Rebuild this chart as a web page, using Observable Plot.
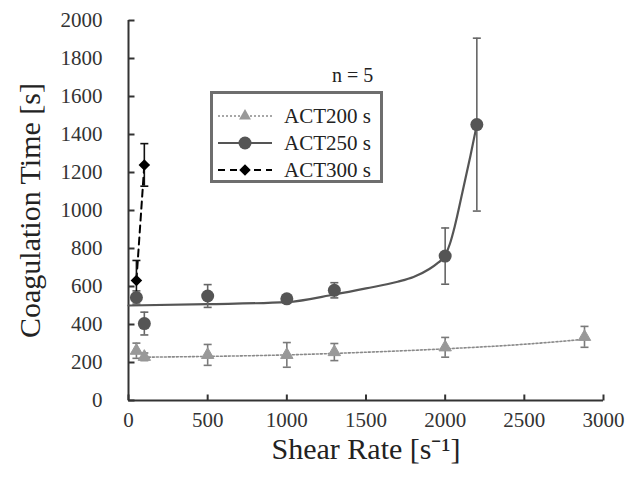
<!DOCTYPE html>
<html><head><meta charset="utf-8">
<script src="https://cdn.jsdelivr.net/npm/d3@7"></script>
<script src="https://cdn.jsdelivr.net/npm/@observablehq/plot@0.6"></script>
<style>
body{margin:0;background:#fff;}
#wrap{position:relative;width:643px;height:481px;overflow:hidden;font-family:"Liberation Serif","Times New Roman",serif;}
#legend{position:absolute;left:210px;top:91px;width:167px;height:86px;border:3px solid #6e6e6e;background:#fff;}
.row{position:absolute;left:0;height:26px;display:flex;align-items:center;font-size:21px;color:#222;}
.row svg{margin-left:5px;margin-right:12px;}
#nlabel{position:absolute;left:332px;top:64px;font-size:20px;color:#222;}
</style>
</head><body><div id="wrap"></div>
<script>
// ---- data ----
const shear200 = [50, 100, 500, 1000, 1300, 2000, 2880];
const act200   = [262, 230, 240, 240, 255, 280, 335];
const err200   = [40, 20, 55, 65, 45, 52, 55];

const shear250 = [50, 100, 500, 1000, 1300, 2000, 2200];
const act250   = [542, 405, 550, 535, 580, 760, 1452];
const err250   = [35, 60, 60, 20, 40, 148, 455];

const shear300 = [50, 100];
const act300   = [632, 1240];
const err300   = [105, 112];

// trend curves
const fit200X = [100, 500, 1000, 1500, 2000, 2500, 2880];
const fit200Y = [228, 232, 240, 254, 272, 296, 322];
const fit250X = [0, 500, 1000, 1300, 1500, 1700, 1800, 1900, 1950, 2000, 2030, 2060, 2110, 2160, 2200];
const fit250Y = [500, 507, 518, 558, 590, 625, 650, 692, 722, 763, 825, 915, 1100, 1290, 1452];

const xTicks = [0, 500, 1000, 1500, 2000, 2500, 3000];
const yTicks = [0, 200, 400, 600, 800, 1000, 1200, 1400, 1600, 1800, 2000];

const seriesNames = ["ACT200 s", "ACT250 s", "ACT300 s"];
const xTitle = "Shear Rate [s\u207B\u00B9]";
const yTitle = "Coagulation Time [s]";
const nText = "n = 5";

// ---- tables ----
const pts = (xs, ys, es) => xs.map((x, i) => ({x, y: ys[i], lo: ys[i] - es[i], hi: ys[i] + es[i]}));
const d200 = pts(shear200, act200, err200);
const d250 = pts(shear250, act250, err250);
const d300 = pts(shear300, act300, err300);
const f200 = fit200X.map((x, i) => ({x, y: fit200Y[i]}));
const f250 = fit250X.map((x, i) => ({x, y: fit250Y[i]}));

const hline = {draw(ctx, size) { const r = Math.sqrt(size / Math.PI); ctx.moveTo(-r, 0); ctx.lineTo(r, 0); }};
const vline = {draw(ctx, size) { const r = Math.sqrt(size / Math.PI); ctx.moveTo(0, -r); ctx.lineTo(0, r); }};

function errMarks(data, color, w) {
  return [
    Plot.ruleX(data, {x: "x", y1: "lo", y2: "hi", stroke: color, strokeWidth: w}),
    Plot.dot(data, {x: "x", y: "lo", symbol: hline, r: 4, stroke: color, strokeWidth: w, fill: "none"}),
    Plot.dot(data, {x: "x", y: "hi", symbol: hline, r: 4, stroke: color, strokeWidth: w, fill: "none"})
  ];
}

const serif = "Liberation Serif";
const axisColor = "#333";
const chart = Plot.plot({
  width: 643, height: 481,
  marginLeft: 128, marginRight: 40, marginTop: 20, marginBottom: 81,
  style: {fontFamily: serif, fontSize: "21px", color: "#333", background: "#fff", overflow: "visible"},
  x: {domain: [0, 3000], axis: null},
  y: {domain: [0, 2000], axis: null},
  marks: [
    // tick labels
    Plot.text(xTicks, {x: d => d, y: 0, text: d => String(d), dy: 12, lineAnchor: "top", textAnchor: "middle", fontSize: 21, fontFamily: serif, fill: "#333"}),
    Plot.text(yTicks, {x: 0, y: d => d, text: d => String(d), dx: -26, lineAnchor: "middle", textAnchor: "end", fontSize: 21, fontFamily: serif, fill: "#333"}),
    Plot.ruleX([0], {y1: 0, y2: 2000, stroke: axisColor, strokeWidth: 2}),
    Plot.ruleY([0], {x1: 0, x2: 3000, stroke: axisColor, strokeWidth: 2}),
    Plot.dot(xTicks, {x: d => d, y: 0, symbol: vline, r: 3, dy: -3, stroke: axisColor, strokeWidth: 2}),
    Plot.dot(yTicks, {x: 0, y: d => d, symbol: hline, r: 3, dx: 3, stroke: axisColor, strokeWidth: 2}),
    // trend lines
    Plot.line(f200, {x: "x", y: "y", stroke: "#8a8a8a", strokeWidth: 1.6, strokeDasharray: "2,2", curve: "monotone-x"}),
    Plot.line(f250, {x: "x", y: "y", stroke: "#555", strokeWidth: 2.2, curve: "monotone-x"}),
    Plot.line(d300, {x: "x", y: "y", stroke: "#000", strokeWidth: 2, strokeDasharray: "7,5"}),
    // error bars
    ...errMarks(d200, "#7a7a7a", 1.6),
    ...errMarks(d250, "#666", 1.6),
    ...errMarks(d300, "#111", 1.6),
    // points
    Plot.dot(d200, {x: "x", y: "y", symbol: "triangle", r: 4.6, fill: "#999", stroke: "#999", strokeWidth: 1}),
    Plot.dot(d250, {x: "x", y: "y", symbol: "circle", r: 6.5, fill: "#555"}),
    Plot.dot(d300, {x: "x", y: "y", symbol: "diamond2", r: 5.2, fill: "#000"}),
    // axis titles
    Plot.text([xTitle], {frameAnchor: "bottom", dy: 49, fontSize: 30, fontFamily: serif, fill: "#222", textAnchor: "middle", lineAnchor: "middle"}),
    Plot.text([yTitle], {frameAnchor: "left", dx: -98, rotate: -90, fontSize: 30, fontFamily: serif, fill: "#222", textAnchor: "middle", lineAnchor: "middle"})
  ]
});

const wrap = document.getElementById("wrap");
wrap.appendChild(chart);

// legend overlay
const legend = document.createElement("div");
legend.id = "legend";
const styles = [
  {stroke: "#8a8a8a", dash: "2,2", w: 1.6, sym: d3.symbolTriangle, size: 62, fill: "#999"},
  {stroke: "#555", dash: null, w: 2.2, sym: d3.symbolCircle, size: Math.PI * 6.5 * 6.5, fill: "#555"},
  {stroke: "#000", dash: "7,5", w: 2, sym: d3.symbolDiamond2, size: Math.PI * 5.2 * 5.2, fill: "#000"}
];
seriesNames.forEach((name, i) => {
  const s = styles[i];
  const row = document.createElement("div");
  row.className = "row";
  row.style.top = (9 + i * 27) + "px";
  const svg = d3.create("svg").attr("width", 54).attr("height", 20);
  svg.append("line").attr("x1", 0).attr("x2", 54).attr("y1", 10).attr("y2", 10)
    .attr("stroke", s.stroke).attr("stroke-width", s.w).attr("stroke-dasharray", s.dash);
  svg.append("path").attr("d", d3.symbol(s.sym, s.size)()).attr("transform", "translate(27,10)").attr("fill", s.fill);
  row.appendChild(svg.node());
  const t = document.createElement("span");
  t.textContent = name;
  row.appendChild(t);
  legend.appendChild(row);
});
wrap.appendChild(legend);

const n = document.createElement("div");
n.id = "nlabel";
n.textContent = nText;
wrap.appendChild(n);
</script>
</body></html>
